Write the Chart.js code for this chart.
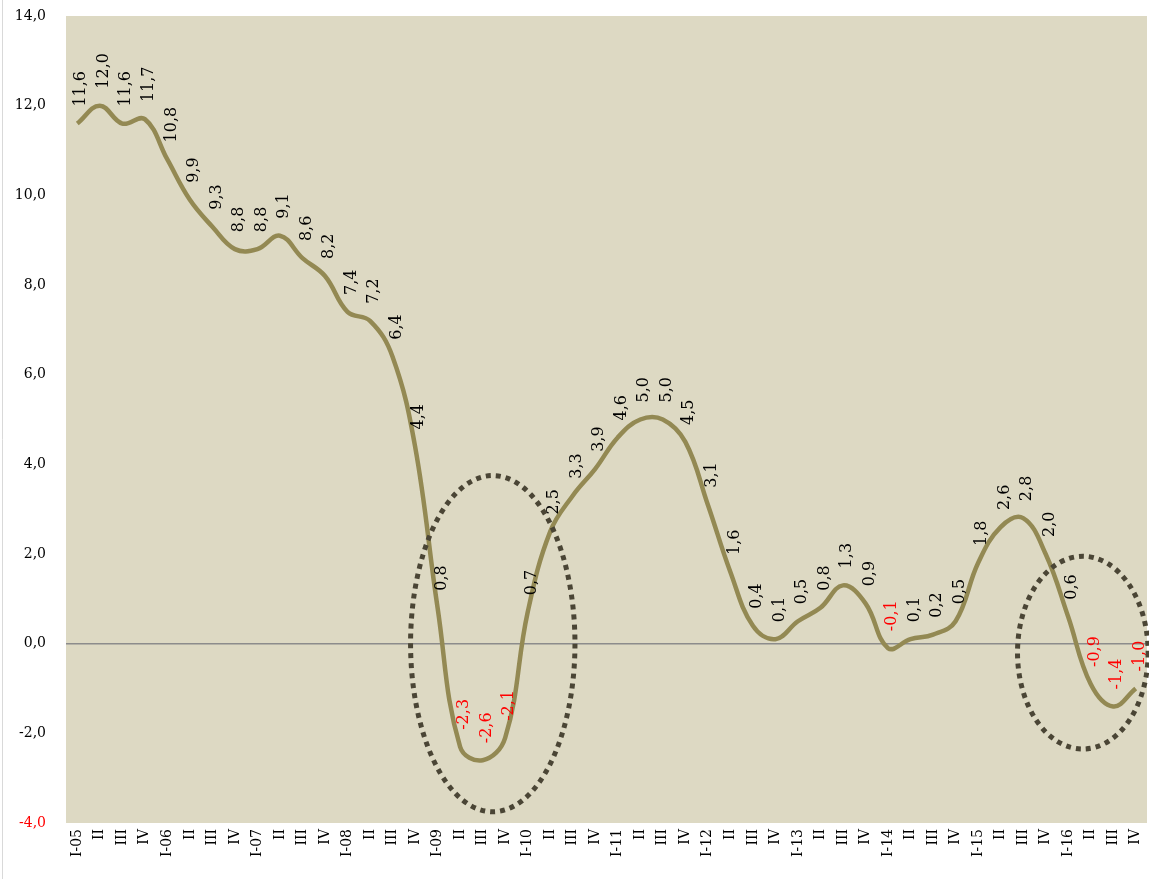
<!DOCTYPE html>
<html lang="en">

<head>
  <meta charset="UTF-8" />
  <title>Quarterly growth, 2005-2016</title>
  <script src="https://cdn.jsdelivr.net/npm/chart.js"></script>
  <style>
    body {
      margin: 0;
      background: white;
    }

    .wrap {
      width: 1149px;
      height: 879px;
      position: relative;
    }
  </style>
</head>

<body>
  <div class="wrap">
    <canvas id="growthChart"></canvas>
  </div>

  <script>
    const quarters = [
      "I-05", "II", "III", "IV",
      "I-06", "II", "III", "IV",
      "I-07", "II", "III", "IV",
      "I-08", "II", "III", "IV",
      "I-09", "II", "III", "IV",
      "I-10", "II", "III", "IV",
      "I-11", "II", "III", "IV",
      "I-12", "II", "III", "IV",
      "I-13", "II", "III", "IV",
      "I-14", "II", "III", "IV",
      "I-15", "II", "III", "IV",
      "I-16", "II", "III", "IV"
    ];

    const growth = [
      11.6, 12.0, 11.6, 11.7,
      10.8, 9.9, 9.3, 8.8,
      8.8, 9.1, 8.6, 8.2,
      7.4, 7.2, 6.4, 4.4,
      0.8, -2.3, -2.6, -2.1,
      0.7, 2.5, 3.3, 3.9,
      4.6, 5.0, 5.0, 4.5,
      3.1, 1.6, 0.4, 0.1,
      0.5, 0.8, 1.3, 0.9,
      -0.1, 0.1, 0.2, 0.5,
      1.8, 2.6, 2.8, 2.0,
      0.6, -0.9, -1.4, -1.0
    ];

    const yTicks = [-4, -2, 0, 2, 4, 6, 8, 10, 12, 14];

    // highlighted periods: centre (category index, value) and radii (categories, value units)
    const highlights = [
      { cx: 18.45, cy: 0.0, rx: 3.65, ry: 3.75 },
      { cx: 44.65, cy: -0.2, rx: 2.9, ry: 2.15 }
    ];

    const fmt = v => v.toFixed(1).replace(".", ",");
    const serif = "'DejaVu Serif', serif";

    const plotBackground = {
      id: "plotBackground",
      beforeDraw(chart) {
        const { ctx, chartArea } = chart;
        ctx.save();
        ctx.fillStyle = "#DDD9C3";
        ctx.fillRect(chartArea.left, chartArea.top, chartArea.right - chartArea.left, chartArea.bottom - chartArea.top);
        ctx.strokeStyle = "#d9d9d9";
        ctx.lineWidth = 1;
        ctx.beginPath();
        ctx.moveTo(2.5, 0);
        ctx.lineTo(2.5, chart.height);
        ctx.stroke();
        ctx.restore();
      }
    };

    const valueLabels = {
      id: "valueLabels",
      afterDatasetsDraw(chart) {
        const { ctx } = chart;
        const meta = chart.getDatasetMeta(0);
        ctx.save();
        ctx.font = "16px " + serif;
        ctx.textAlign = "left";
        ctx.textBaseline = "middle";
        meta.data.forEach((pt, i) => {
          const v = growth[i];
          ctx.save();
          ctx.translate(pt.x + 4, pt.y - 17);
          ctx.rotate(-Math.PI / 2);
          ctx.fillStyle = v < 0 ? "#FF0000" : "#000000";
          ctx.fillText(fmt(v), 0, 0);
          ctx.restore();
        });
        ctx.restore();
      }
    };

    const ellipses = {
      id: "ellipses",
      afterDatasetsDraw(chart) {
        const { ctx } = chart;
        const xs = chart.scales.x;
        const ys = chart.scales.y;
        const step = xs.getPixelForValue(1) - xs.getPixelForValue(0);
        ctx.save();
        ctx.strokeStyle = "#4A4535";
        ctx.lineWidth = 5;
        ctx.setLineDash([5, 5]);
        highlights.forEach(h => {
          const cx = xs.getPixelForValue(0) + h.cx * step;
          const cy = ys.getPixelForValue(h.cy);
          const rx = h.rx * step;
          const ry = Math.abs(ys.getPixelForValue(h.cy + h.ry) - cy);
          ctx.beginPath();
          ctx.ellipse(cx, cy, rx, ry, 0, 0, Math.PI * 2);
          ctx.stroke();
        });
        ctx.restore();
      }
    };

    const ctx = document.getElementById("growthChart").getContext("2d");
    new Chart(ctx, {
      type: "line",
      data: {
        labels: quarters,
        datasets: [{
          data: growth,
          borderColor: "#938953",
          borderWidth: 4.5,
          pointRadius: 0,
          tension: 0.4,
          fill: false
        }]
      },
      options: {
        responsive: true,
        maintainAspectRatio: false,
        animation: false,
        layout: {
          padding: { top: 16, right: 2, left: 0, bottom: 0 }
        },
        plugins: {
          legend: { display: false },
          tooltip: { enabled: false }
        },
        scales: {
          x: {
            offset: true,
            grid: { display: false, drawTicks: false },
            border: { display: false },
            ticks: {
              autoSkip: false,
              maxRotation: 90,
              minRotation: 90,
              padding: 6,
              color: "#000",
              font: { family: serif, size: 14 }
            },
            afterFit(scale) {
              scale.height = 56;
              scale.paddingLeft = 0;
              scale.paddingRight = 0;
            }
          },
          y: {
            min: -4,
            max: 14,
            afterBuildTicks(scale) {
              scale.ticks = yTicks.map(v => ({ value: v }));
            },
            grid: {
              drawTicks: false,
              color: c => (c.tick && c.tick.value === 0 ? "#8c8c8c" : "rgba(0,0,0,0)"),
              lineWidth: 1.5
            },
            border: { display: false },
            ticks: {
              padding: 20,
              color: c => (c.tick.value <= -4 ? "#FF0000" : "#000"),
              font: { family: serif, size: 14 },
              callback: v => fmt(v)
            },
            afterFit(scale) {
              scale.width = 66;
              scale.paddingTop = 0;
              scale.paddingBottom = 0;
            }
          }
        }
      },
      plugins: [plotBackground, valueLabels, ellipses]
    });
  </script>
</body>

</html>
